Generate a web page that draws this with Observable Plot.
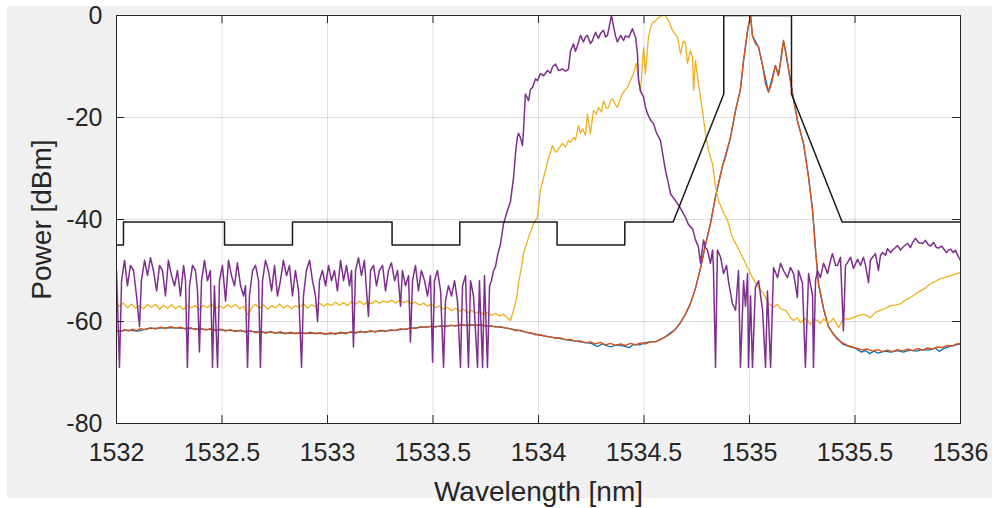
<!DOCTYPE html>
<html>
<head>
<meta charset="utf-8">
<script src="https://cdn.jsdelivr.net/npm/d3@7"></script>
<script src="https://cdn.jsdelivr.net/npm/@observablehq/plot@0.6"></script>
<style>
  html, body { margin: 0; padding: 0; background: #ffffff; }
  #chart svg { display: block; }
</style>
</head>
<body>
<div id="chart"></div>
<script>
// Axis ticks
const wavelengthTicks = [1532, 1532.5, 1533, 1533.5, 1534, 1534.5, 1535, 1535.5, 1536];
const powerTicks = [-80, -60, -40, -20, 0];

// Filter mask (black), [wavelength nm, power dBm]
const mask = [
  [1532.000, -45], [1532.033, -45], [1532.033, -40.5], [1532.512, -40.5], [1532.512, -45],
  [1532.834, -45], [1532.834, -40.5], [1533.306, -40.5], [1533.306, -45], [1533.627, -45],
  [1533.627, -40.5], [1534.088, -40.5], [1534.088, -45], [1534.409, -45], [1534.409, -40.5],
  [1534.638, -40.5], [1534.878, -15.4], [1534.878, 0], [1535.199, 0], [1535.199, -15.4],
  [1535.439, -40.5], [1536.000, -40.5]
];

// Spectrum traces, [wavelength nm, power dBm]
const traceBlue = [
  [1532.000,-62.0],[1532.050,-61.7],[1532.100,-61.9],[1532.150,-61.4],[1532.200,-61.3],[1532.250,-61.2],
  [1532.300,-61.3],[1532.350,-61.4],[1532.400,-61.5],[1532.450,-61.6],[1532.500,-61.7],[1532.550,-61.8],
  [1532.600,-61.9],[1532.650,-62.0],[1532.700,-62.1],[1532.750,-62.2],[1532.800,-62.3],[1532.850,-62.3],
  [1532.900,-62.3],[1532.950,-62.3],[1533.000,-62.4],[1533.050,-62.3],[1533.100,-62.2],[1533.150,-62.1],
  [1533.200,-62.0],[1533.250,-61.9],[1533.300,-61.8],[1533.350,-61.6],[1533.400,-61.3],[1533.450,-61.1],
  [1533.500,-61.0],[1533.550,-60.9],[1533.600,-60.8],[1533.650,-60.7],[1533.700,-60.7],[1533.750,-60.8],
  [1533.800,-61.0],[1533.850,-61.3],[1533.900,-61.7],[1533.950,-62.2],[1534.000,-62.6],[1534.050,-63.0],
  [1534.100,-63.3],[1534.150,-63.7],[1534.200,-64.0],[1534.250,-64.3],[1534.280,-64.9],[1534.300,-64.4],
  [1534.340,-65.0],[1534.370,-64.6],[1534.400,-64.8],[1534.430,-65.1],[1534.450,-64.5],[1534.480,-64.6],
  [1534.500,-64.2],[1534.530,-64.0],[1534.560,-63.9],[1534.600,-63.0],[1534.650,-61.5],[1534.673,-60.2],
  [1534.697,-58.5],[1534.720,-56.5],[1534.744,-53.5],[1534.768,-49.5],[1534.791,-45.0],[1534.815,-40.8],
  [1534.839,-35.5],[1534.872,-29.5],[1534.910,-23.9],[1534.934,-18.6],[1534.957,-14.5],[1534.972,-8.8],
  [1534.991,-2.9],[1535.005,0],[1535.014,-4.0],[1535.043,-6.2],[1535.062,-9.8],[1535.090,-15.0],
  [1535.123,-9.8],[1535.137,-11.8],[1535.161,-4.9],[1535.185,-10.5],[1535.204,-15.3],[1535.227,-20.6],
  [1535.256,-25.1],[1535.280,-31.7],[1535.299,-38.2],[1535.313,-46.0],[1535.327,-52.6],[1535.351,-57.5],
  [1535.374,-61.0],[1535.398,-62.5],[1535.420,-63.4],[1535.440,-64.4],[1535.470,-64.9],[1535.500,-65.2],
  [1535.530,-66.0],[1535.550,-65.7],[1535.570,-66.3],[1535.590,-65.8],[1535.610,-66.2],[1535.640,-65.8],
  [1535.670,-66.0],[1535.700,-65.7],[1535.730,-66.0],[1535.760,-65.6],[1535.790,-65.8],[1535.820,-65.5],
  [1535.850,-65.6],[1535.880,-65.2],[1535.900,-65.9],[1535.920,-65.3],[1535.950,-64.9],[1535.980,-64.6],
  [1536.000,-64.4]
];

const traceOrange = [
  [1532.000,-61.8],[1532.019,-62.0],[1532.038,-61.6],[1532.057,-61.9],[1532.076,-61.5],[1532.095,-61.8],
  [1532.114,-61.4],[1532.137,-61.6],[1532.161,-61.2],[1532.185,-61.5],[1532.209,-61.1],[1532.232,-61.4],
  [1532.256,-61.0],[1532.280,-61.3],[1532.303,-61.1],[1532.327,-61.5],[1532.351,-61.2],[1532.374,-61.6],
  [1532.398,-61.3],[1532.422,-61.7],[1532.445,-61.4],[1532.469,-61.8],[1532.493,-61.5],[1532.517,-61.9],
  [1532.540,-61.6],[1532.564,-62.0],[1532.588,-61.7],[1532.611,-62.1],[1532.635,-61.8],[1532.659,-62.2],
  [1532.682,-61.9],[1532.706,-62.3],[1532.730,-62.0],[1532.754,-62.3],[1532.777,-62.0],[1532.801,-62.4],
  [1532.825,-62.1],[1532.848,-62.4],[1532.872,-62.1],[1532.896,-62.4],[1532.919,-62.1],[1532.943,-62.4],
  [1532.967,-62.2],[1532.991,-62.5],[1533.014,-62.2],[1533.038,-62.5],[1533.062,-62.1],[1533.085,-62.4],
  [1533.109,-62.0],[1533.133,-62.3],[1533.156,-61.9],[1533.180,-62.2],[1533.204,-61.8],[1533.227,-62.1],
  [1533.251,-61.7],[1533.275,-62.0],[1533.299,-61.6],[1533.322,-61.8],[1533.346,-61.4],[1533.370,-61.6],
  [1533.393,-61.2],[1533.417,-61.4],[1533.441,-61.0],[1533.464,-61.2],[1533.488,-60.9],[1533.512,-61.1],
  [1533.536,-60.8],[1533.559,-61.0],[1533.583,-60.7],[1533.607,-60.9],[1533.630,-60.6],[1533.654,-60.8],
  [1533.678,-60.6],[1533.701,-60.8],[1533.725,-60.6],[1533.749,-60.9],[1533.773,-60.8],[1533.796,-61.1],
  [1533.820,-61.0],[1533.844,-61.3],[1533.867,-61.4],[1533.891,-61.8],[1533.915,-61.7],[1533.938,-62.1],
  [1533.962,-62.2],[1533.986,-62.6],[1534.009,-62.6],[1534.033,-62.9],[1534.057,-63.0],[1534.081,-63.3],
  [1534.104,-63.2],[1534.128,-63.6],[1534.152,-63.5],[1534.175,-63.9],[1534.199,-63.8],[1534.223,-64.2],
  [1534.246,-64.0],[1534.270,-64.4],[1534.294,-64.1],[1534.318,-64.6],[1534.341,-64.3],[1534.365,-64.7],
  [1534.389,-64.4],[1534.412,-64.7],[1534.436,-64.3],[1534.460,-64.6],[1534.483,-64.2],[1534.507,-64.4],
  [1534.531,-64.0],[1534.555,-64.0],[1534.578,-63.5],[1534.602,-63.0],[1534.626,-62.4],[1534.649,-61.5],
  [1534.673,-60.2],[1534.697,-58.5],[1534.720,-56.5],[1534.744,-53.5],[1534.768,-49.5],[1534.791,-45.0],
  [1534.815,-40.8],[1534.839,-35.5],[1534.853,-33.0],[1534.872,-29.5],[1534.886,-27.8],[1534.910,-23.9],
  [1534.934,-18.6],[1534.957,-14.5],[1534.972,-8.8],[1534.991,-2.9],[1535.005,0],[1535.014,-4.0],
  [1535.028,-5.5],[1535.043,-6.2],[1535.062,-9.8],[1535.076,-13.5],[1535.090,-15.0],[1535.104,-13.4],
  [1535.123,-9.8],[1535.137,-11.8],[1535.152,-8.0],[1535.161,-4.9],[1535.175,-7.8],[1535.185,-10.5],
  [1535.204,-15.3],[1535.227,-20.6],[1535.256,-25.1],[1535.280,-31.7],[1535.299,-38.2],[1535.313,-46.0],
  [1535.327,-52.6],[1535.351,-57.5],[1535.374,-61.0],[1535.398,-62.5],[1535.417,-63.5],[1535.441,-64.2],
  [1535.464,-64.7],[1535.488,-65.0],[1535.512,-65.3],[1535.536,-65.6],[1535.559,-65.4],[1535.583,-65.8],
  [1535.607,-65.5],[1535.630,-65.9],[1535.654,-65.6],[1535.678,-65.9],[1535.701,-65.5],[1535.725,-65.8],
  [1535.749,-65.4],[1535.773,-65.7],[1535.796,-65.3],[1535.820,-65.6],[1535.844,-65.2],[1535.867,-65.4],
  [1535.891,-65.0],[1535.915,-65.1],[1535.938,-64.7],[1535.962,-64.8],[1535.981,-64.4],[1536.000,-64.3]
];

const traceYellow = [
  [1532.000,-56.3],[1532.014,-57.0],[1532.033,-56.4],[1532.052,-57.3],[1532.071,-56.6],[1532.090,-57.4],
  [1532.109,-56.9],[1532.128,-57.5],[1532.147,-56.7],[1532.166,-57.2],[1532.185,-56.6],[1532.204,-57.6],
  [1532.223,-56.8],[1532.242,-57.4],[1532.261,-56.7],[1532.280,-57.5],[1532.299,-56.9],[1532.318,-57.6],
  [1532.336,-56.8],[1532.355,-57.3],[1532.374,-56.9],[1532.393,-57.7],[1532.412,-56.8],[1532.431,-57.3],
  [1532.450,-56.6],[1532.469,-57.5],[1532.488,-56.9],[1532.507,-57.4],[1532.526,-56.7],[1532.545,-57.2],
  [1532.564,-56.6],[1532.583,-57.5],[1532.602,-57.0],[1532.616,-58.2],[1532.626,-58.9],[1532.640,-57.3],
  [1532.659,-56.6],[1532.678,-57.4],[1532.697,-56.7],[1532.716,-57.6],[1532.735,-56.9],[1532.754,-57.3],
  [1532.773,-56.6],[1532.791,-57.4],[1532.810,-56.8],[1532.829,-57.5],[1532.848,-56.9],[1532.867,-57.2],
  [1532.886,-56.5],[1532.905,-57.4],[1532.924,-56.7],[1532.943,-57.1],[1532.962,-56.4],[1532.981,-57.0],
  [1533.000,-56.5],[1533.019,-56.9],[1533.038,-56.2],[1533.057,-56.8],[1533.076,-56.3],[1533.095,-56.9],
  [1533.114,-56.1],[1533.133,-56.6],[1533.152,-56.0],[1533.171,-56.7],[1533.190,-56.2],[1533.209,-56.5],
  [1533.227,-55.9],[1533.246,-56.4],[1533.265,-56.0],[1533.284,-56.3],[1533.303,-55.8],[1533.322,-56.4],
  [1533.341,-55.9],[1533.360,-56.3],[1533.379,-56.0],[1533.398,-56.5],[1533.417,-56.2],[1533.436,-56.8],
  [1533.455,-56.4],[1533.474,-57.0],[1533.493,-56.6],[1533.512,-57.3],[1533.531,-57.0],[1533.550,-57.6],
  [1533.569,-57.2],[1533.588,-57.9],[1533.607,-57.4],[1533.626,-58.0],[1533.645,-57.6],[1533.664,-58.3],
  [1533.682,-57.8],[1533.701,-58.4],[1533.720,-58.0],[1533.739,-58.6],[1533.758,-58.2],[1533.777,-58.8],
  [1533.796,-58.4],[1533.815,-58.9],[1533.834,-58.6],[1533.853,-59.3],[1533.867,-59.8],[1533.882,-57.8],
  [1533.896,-55.5],[1533.905,-52.5],[1533.919,-49.5],[1533.929,-46.7],[1533.943,-44.8],[1533.953,-43.5],
  [1533.967,-42.0],[1533.976,-40.8],[1533.995,-39.6],[1534.009,-34.3],[1534.024,-31.8],[1534.033,-30.4],
  [1534.047,-28.0],[1534.057,-26.8],[1534.066,-25.5],[1534.081,-26.8],[1534.090,-26.5],[1534.104,-25.6],
  [1534.114,-25.1],[1534.128,-25.8],[1534.142,-24.5],[1534.152,-24.9],[1534.166,-23.9],[1534.175,-24.4],
  [1534.190,-21.6],[1534.199,-23.1],[1534.209,-22.2],[1534.223,-23.5],[1534.232,-19.3],[1534.246,-23.1],
  [1534.261,-18.6],[1534.275,-19.4],[1534.284,-18.0],[1534.299,-18.9],[1534.308,-16.7],[1534.322,-18.2],
  [1534.332,-18.0],[1534.341,-16.8],[1534.351,-16.3],[1534.365,-17.5],[1534.374,-18.0],[1534.389,-16.2],
  [1534.398,-15.3],[1534.412,-14.6],[1534.422,-14.1],[1534.436,-12.7],[1534.450,-11.4],[1534.464,-9.4],
  [1534.474,-12.2],[1534.483,-15.1],[1534.498,-6.3],[1534.507,-11.4],[1534.521,-4.3],[1534.531,-2.5],
  [1534.540,-1.4],[1534.555,-1.0],[1534.569,-0.4],[1534.588,0],[1534.602,0],[1534.616,-1.0],
  [1534.635,-2.9],[1534.659,-4.3],[1534.673,-7.5],[1534.687,-5.0],[1534.697,-5.5],[1534.706,-9.4],
  [1534.720,-6.9],[1534.730,-8.2],[1534.735,-14.7],[1534.744,-8.8],[1534.758,-13.3],[1534.777,-18.6],
  [1534.791,-23.1],[1534.806,-26.5],[1534.825,-29.1],[1534.839,-33.7],[1534.853,-36.3],[1534.872,-38.2],
  [1534.896,-40.2],[1534.919,-43.5],[1534.943,-45.4],[1534.967,-47.4],[1534.991,-49.4],[1535.014,-51.4],
  [1535.043,-53.3],[1535.066,-54.5],[1535.090,-56.5],[1535.104,-56.9],[1535.114,-57.2],[1535.133,-56.6],
  [1535.147,-57.5],[1535.171,-57.8],[1535.194,-59.2],[1535.209,-59.8],[1535.227,-59.3],[1535.242,-60.2],
  [1535.261,-59.4],[1535.275,-59.8],[1535.289,-60.6],[1535.303,-59.6],[1535.322,-59.8],[1535.336,-60.4],
  [1535.351,-59.5],[1535.374,-60.3],[1535.384,-60.0],[1535.398,-59.4],[1535.422,-61.2],[1535.445,-59.4],
  [1535.469,-59.6],[1535.493,-59.2],[1535.517,-58.8],[1535.540,-58.6],[1535.555,-58.8],[1535.573,-59.3],
  [1535.597,-58.2],[1535.621,-57.8],[1535.645,-57.4],[1535.668,-56.9],[1535.692,-56.8],[1535.716,-56.5],
  [1535.739,-55.8],[1535.763,-55.3],[1535.787,-54.6],[1535.810,-54.0],[1535.834,-53.4],[1535.858,-52.6],
  [1535.882,-52.1],[1535.905,-51.6],[1535.929,-51.3],[1535.953,-51.0],[1535.976,-50.7],[1536.000,-50.4]
];

const tracePurple = [
  [1532.000,-50],[1532.014,-69],[1532.024,-52],[1532.038,-48],[1532.052,-53],[1532.066,-49],
  [1532.081,-50],[1532.095,-55],[1532.109,-61],[1532.118,-52],[1532.133,-48],[1532.147,-51],
  [1532.161,-47.5],[1532.175,-50],[1532.190,-54],[1532.204,-49],[1532.218,-50],[1532.232,-55],
  [1532.246,-48],[1532.261,-51],[1532.275,-53],[1532.289,-50],[1532.303,-55],[1532.318,-49],
  [1532.327,-52],[1532.336,-69],[1532.346,-53],[1532.360,-49],[1532.374,-50],[1532.384,-54],
  [1532.393,-66],[1532.403,-52],[1532.417,-48],[1532.431,-52],[1532.445,-50],[1532.455,-69],
  [1532.464,-53],[1532.479,-69],[1532.488,-52],[1532.502,-49],[1532.517,-56],[1532.531,-48],
  [1532.545,-51],[1532.559,-53],[1532.573,-48.5],[1532.588,-53],[1532.602,-55],[1532.611,-53],
  [1532.621,-69],[1532.630,-55],[1532.645,-50],[1532.659,-49],[1532.673,-52],[1532.682,-69],
  [1532.692,-52],[1532.706,-48],[1532.720,-50],[1532.735,-54],[1532.749,-49],[1532.763,-55],
  [1532.777,-52],[1532.791,-48],[1532.806,-51],[1532.820,-49],[1532.834,-55],[1532.848,-50],
  [1532.863,-54],[1532.877,-69],[1532.886,-55],[1532.900,-50],[1532.915,-48],[1532.929,-52],
  [1532.943,-55],[1532.953,-60],[1532.962,-52],[1532.976,-50],[1532.991,-53],[1533.005,-49],
  [1533.019,-52],[1533.033,-50],[1533.047,-54],[1533.062,-48],[1533.076,-52],[1533.090,-49],
  [1533.104,-53],[1533.114,-50],[1533.123,-65],[1533.133,-50],[1533.147,-47.5],[1533.161,-51],
  [1533.175,-48],[1533.185,-54],[1533.194,-59],[1533.204,-50],[1533.218,-49],[1533.232,-53],
  [1533.246,-50],[1533.261,-49],[1533.275,-54],[1533.289,-50],[1533.303,-48.5],[1533.318,-52],
  [1533.332,-50],[1533.346,-57],[1533.355,-50],[1533.370,-53],[1533.384,-51],[1533.393,-64],
  [1533.403,-52],[1533.417,-49],[1533.431,-54],[1533.445,-50],[1533.460,-52],[1533.474,-55],
  [1533.488,-51],[1533.498,-68],[1533.507,-52],[1533.521,-50],[1533.536,-54],[1533.550,-69],
  [1533.559,-56],[1533.573,-53],[1533.588,-55],[1533.602,-52],[1533.616,-56],[1533.630,-69],
  [1533.640,-53],[1533.654,-51],[1533.668,-69],[1533.678,-52],[1533.692,-55],[1533.711,-69],
  [1533.720,-52],[1533.735,-69],[1533.744,-51],[1533.758,-69],[1533.768,-53],[1533.777,-52],
  [1533.787,-50],[1533.796,-49.3],[1533.806,-47],[1533.820,-44.8],[1533.834,-40.9],[1533.853,-38.2],
  [1533.867,-36.5],[1533.882,-31.7],[1533.891,-27],[1533.900,-23.8],[1533.905,-23.1],[1533.915,-24],
  [1533.924,-25.5],[1533.929,-22.5],[1533.938,-15.4],[1533.953,-16.7],[1533.962,-14.5],[1533.972,-14.1],
  [1533.986,-12.4],[1533.995,-12.8],[1534.009,-11.4],[1534.024,-11.8],[1534.043,-10.8],[1534.057,-11.3],
  [1534.066,-10.1],[1534.081,-9.5],[1534.095,-10.8],[1534.114,-10.5],[1534.128,-10.9],[1534.142,-10.5],
  [1534.152,-6.9],[1534.166,-5.6],[1534.175,-7],[1534.185,-5.9],[1534.199,-3.9],[1534.213,-5.2],
  [1534.223,-4.2],[1534.232,-3.9],[1534.246,-5.5],[1534.256,-4.9],[1534.270,-3.3],[1534.284,-4.5],
  [1534.294,-3.5],[1534.308,-2.9],[1534.318,-4.2],[1534.327,-3.9],[1534.336,-2],[1534.346,0],
  [1534.355,-2],[1534.365,-4],[1534.374,-5.2],[1534.389,-3.9],[1534.403,-4.9],[1534.412,-4],
  [1534.427,-4.3],[1534.436,-3.5],[1534.445,-2.6],[1534.460,-4.3],[1534.469,-7.5],[1534.474,-12.7],
  [1534.483,-14.7],[1534.498,-16],[1534.507,-18],[1534.517,-19.3],[1534.531,-20.5],[1534.545,-21.2],
  [1534.559,-23],[1534.578,-24.5],[1534.592,-28],[1534.602,-30.4],[1534.616,-33],[1534.626,-35],
  [1534.649,-36.3],[1534.673,-37.8],[1534.697,-39.6],[1534.711,-41],[1534.730,-41.8],[1534.744,-44],
  [1534.758,-45.4],[1534.768,-48.6],[1534.782,-44],[1534.791,-45.5],[1534.801,-46],[1534.815,-48.6],
  [1534.825,-46],[1534.829,-49.4],[1534.839,-69],[1534.848,-46],[1534.863,-47.4],[1534.877,-50.6],
  [1534.891,-49],[1534.900,-52],[1534.919,-56.5],[1534.934,-57.8],[1534.948,-50],[1534.957,-69],
  [1534.972,-52],[1534.981,-57],[1534.991,-50.6],[1534.995,-69],[1535.005,-55],[1535.014,-69],
  [1535.028,-53.3],[1535.043,-52],[1535.062,-57.8],[1535.076,-69],[1535.085,-54],[1535.100,-69],
  [1535.114,-49.4],[1535.133,-51.4],[1535.147,-48.6],[1535.161,-50],[1535.180,-51.4],[1535.194,-49.4],
  [1535.209,-50.6],[1535.227,-55.3],[1535.232,-50],[1535.251,-52.5],[1535.265,-69],[1535.280,-50.6],
  [1535.299,-55],[1535.303,-69],[1535.313,-52],[1535.322,-50],[1535.336,-51.4],[1535.351,-48.6],
  [1535.370,-50.6],[1535.384,-48],[1535.393,-46.7],[1535.408,-49],[1535.417,-49],[1535.431,-47.4],
  [1535.445,-61.8],[1535.455,-49],[1535.464,-48.5],[1535.479,-47.4],[1535.493,-49.6],[1535.512,-47.8],
  [1535.526,-49],[1535.540,-47.4],[1535.550,-49],[1535.564,-52.4],[1535.573,-48],[1535.583,-47.4],
  [1535.597,-46.7],[1535.611,-50],[1535.621,-47],[1535.630,-46.5],[1535.645,-47],[1535.654,-45.7],
  [1535.668,-46.5],[1535.678,-46],[1535.692,-45.5],[1535.701,-45.1],[1535.716,-46],[1535.725,-45.5],
  [1535.739,-45],[1535.749,-44.7],[1535.763,-45.5],[1535.773,-44.5],[1535.787,-43.7],[1535.801,-44.5],
  [1535.820,-44.7],[1535.834,-44.1],[1535.848,-45],[1535.858,-45.2],[1535.872,-44.5],[1535.886,-45.5],
  [1535.896,-45.6],[1535.910,-45.2],[1535.919,-45.7],[1535.934,-46.5],[1535.943,-46],[1535.953,-45.8],
  [1535.967,-46.5],[1535.976,-46],[1535.986,-47],[1536.000,-48]
];

const axisColor = "#262626";
const fontFamily = "'Liberation Sans', Arial, Helvetica, sans-serif";
const wl = d => d[0];
const pw = d => d[1];

const chart = Plot.plot({
  width: 992,
  height: 508,
  marginLeft: 116,
  marginRight: 32,
  marginTop: 15,
  marginBottom: 85,
  style: {
    fontFamily,
    color: axisColor,
    overflow: "visible",
    // light grey figure panel with a thin white edge on the left, top and bottom
    background: "linear-gradient(#f0f0f0, #f0f0f0) 7px 6px / 985px 492px no-repeat, #ffffff"
  },
  x: { domain: [1532, 1536] },
  y: { domain: [-80, 0] },
  marks: [
    Plot.frame({ fill: "#ffffff", stroke: null }),
    Plot.gridX(wavelengthTicks, { stroke: axisColor, strokeOpacity: 0.15, strokeWidth: 1 }),
    Plot.gridY(powerTicks, { stroke: axisColor, strokeOpacity: 0.15, strokeWidth: 1 }),
    Plot.line(traceBlue, { x: wl, y: pw, stroke: "#0072BD", strokeWidth: 1.3, clip: true }),
    Plot.line(traceOrange, { x: wl, y: pw, stroke: "#D95319", strokeWidth: 1.4, clip: true }),
    Plot.line(traceYellow, { x: wl, y: pw, stroke: "#EDB120", strokeWidth: 1.3, clip: true }),
    Plot.line(tracePurple, { x: wl, y: pw, stroke: "#7E2F8E", strokeWidth: 1.5, clip: true }),
    Plot.line(mask, { x: wl, y: pw, stroke: "#1a1a1a", strokeWidth: 1.5, clip: true }),
    // inward ticks on all four sides of the box
    Plot.tickX(wavelengthTicks, { stroke: axisColor, insetTop: 400 }),
    Plot.tickX(wavelengthTicks, { stroke: axisColor, insetBottom: 400 }),
    Plot.tickY(powerTicks, { stroke: axisColor, insetRight: 836 }),
    Plot.tickY(powerTicks, { stroke: axisColor, insetLeft: 836 }),
    Plot.frame({ stroke: axisColor, strokeWidth: 1 }),
    Plot.axisX(wavelengthTicks, {
      anchor: "bottom", tickSize: 0, tickPadding: 20, fontSize: 25,
      tickFormat: d => String(d), label: null, fill: axisColor
    }),
    Plot.axisY(powerTicks, {
      anchor: "left", tickSize: 0, tickPadding: 14, fontSize: 25,
      tickFormat: d => String(d), label: null, fill: axisColor
    }),
    Plot.text(["Wavelength [nm]"], {
      frameAnchor: "bottom", textAnchor: "middle", lineAnchor: "middle",
      dy: 69, fontSize: 28, fill: axisColor, text: d => d
    }),
    Plot.text(["Power [dBm]"], {
      frameAnchor: "left", textAnchor: "middle", lineAnchor: "middle",
      rotate: -90, dx: -74, fontSize: 28, fill: axisColor, text: d => d
    })
  ]
});

document.getElementById("chart").appendChild(chart);
</script>
</body>
</html>
